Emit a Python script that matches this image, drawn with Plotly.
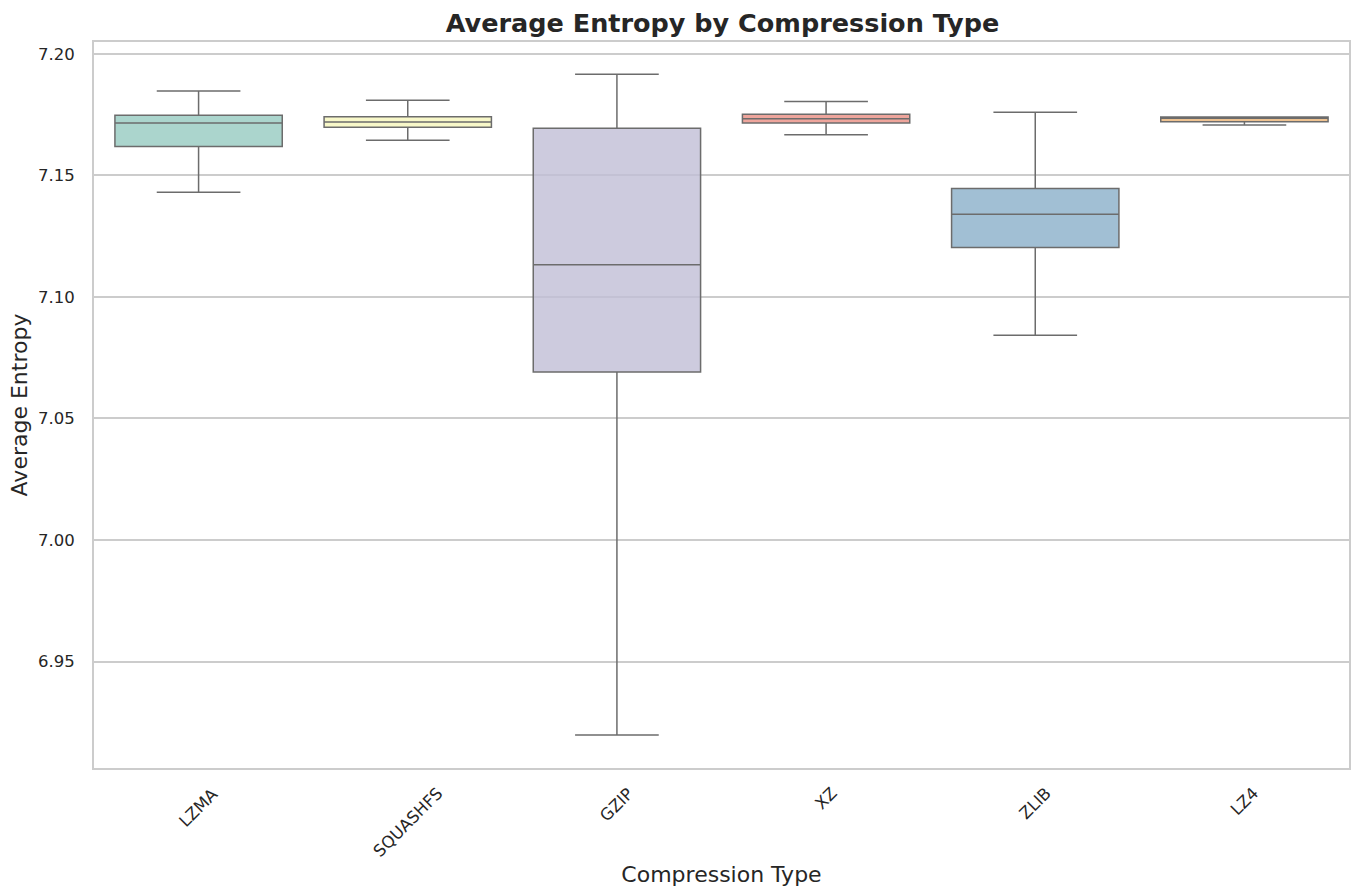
import colorsys
import plotly.graph_objects as go

# Summary statistics of average entropy per compression type
compression_types = ["LZMA", "SQUASHFS", "GZIP", "XZ", "ZLIB", "LZ4"]
lower_whisker = [7.1431, 7.1645, 6.9198, 7.1667, 7.0842, 7.1708]
q1_values = [7.1619, 7.1698, 7.0691, 7.1716, 7.1203, 7.1721]
median_values = [7.1716, 7.1720, 7.1133, 7.1733, 7.1340, 7.1735]
q3_values = [7.1748, 7.1741, 7.1694, 7.1752, 7.1446, 7.1740]
upper_whisker = [7.1847, 7.1809, 7.1916, 7.1804, 7.1760, 7.1740]

# Set3 palette, desaturated to 75% like seaborn's default box styling
set3 = ["#8dd3c7", "#ffffb3", "#bebada", "#fb8072", "#80b1d3", "#fdb462"]


def desaturate(hex_color, prop=0.75, alpha=0.8):
    r, g, b = (int(hex_color[i:i + 2], 16) / 255 for i in (1, 3, 5))
    h, l, s = colorsys.rgb_to_hls(r, g, b)
    r, g, b = colorsys.hls_to_rgb(h, l, s * prop)
    return f"rgba({round(r * 255)},{round(g * 255)},{round(b * 255)},{alpha})"


line_color = "rgb(108,108,108)"
text_color = "#262626"
font_family = "DejaVu Sans, Liberation Sans, sans-serif"

fig = go.Figure()
for i, name in enumerate(compression_types):
    fig.add_trace(go.Box(
        x=[name],
        q1=[q1_values[i]],
        median=[median_values[i]],
        q3=[q3_values[i]],
        lowerfence=[lower_whisker[i]],
        upperfence=[upper_whisker[i]],
        name=name,
        fillcolor=desaturate(set3[i]),
        line=dict(color=line_color, width=1.5),
        width=0.8,
        whiskerwidth=0.5,
        boxpoints=False,
        showlegend=False,
        hoverinfo="y",
    ))

# Rotated category labels, centred under each box
for name in compression_types:
    fig.add_annotation(
        x=name, xref="x", y=0, yref="paper",
        text=name, textangle=-45, showarrow=False,
        xanchor="center", yanchor="top", yshift=-13,
        font=dict(size=16.5, color=text_color, family=font_family),
    )

fig.update_layout(
    width=1354, height=894,
    margin=dict(l=94, r=3, t=42, b=126),
    paper_bgcolor="white",
    plot_bgcolor="white",
    font=dict(family=font_family, color=text_color),
    title=dict(
        text="<b>Average Entropy by Compression Type</b>",
        x=(94 + 1351) / 2 / 1354, xanchor="center",
        y=1 - 23 / 894, yanchor="middle",
        font=dict(size=25.5, color=text_color, family=font_family),
    ),
    xaxis=dict(
        type="category",
        categoryorder="array", categoryarray=compression_types,
        range=[-0.5, len(compression_types) - 0.5],
        showticklabels=False,
        showgrid=False,
        showline=True, mirror=True, linecolor="#cccccc", linewidth=2,
        ticks="",
        title=dict(text="Compression Type", standoff=98,
                   font=dict(size=22, color=text_color, family=font_family)),
    ),
    yaxis=dict(
        range=[6.9062, 7.2049],
        tickmode="array",
        tickvals=[6.95, 7.00, 7.05, 7.10, 7.15, 7.20],
        tickformat=".2f",
        tickfont=dict(size=16.5, color=text_color, family=font_family),
        ticks="",
        ticklabelstandoff=14,
        showgrid=True, gridcolor="#cccccc", gridwidth=1.5,
        zeroline=False,
        showline=True, mirror=True, linecolor="#cccccc", linewidth=2,
        title=dict(text="Average Entropy", standoff=4,
                   font=dict(size=22, color=text_color, family=font_family)),
    ),
)

fig.write_html("out.html")
